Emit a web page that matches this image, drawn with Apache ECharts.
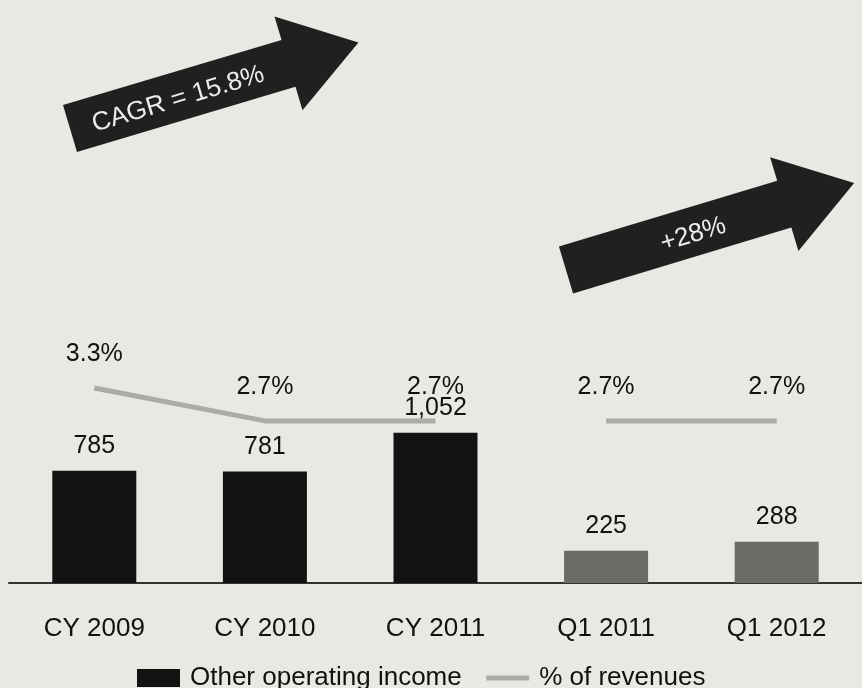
<!DOCTYPE html>
<html>
<head>
<meta charset="utf-8">
<script src="https://cdn.jsdelivr.net/npm/echarts@6/dist/echarts.min.js"></script>
<style>
  html, body { margin: 0; padding: 0; background: #e8e9e2; }
  #chart { width: 862px; height: 688px; }
</style>
</head>
<body>
<div id="chart"></div>
<script>
// Periods shown on the category axis
const categories = ['CY 2009', 'CY 2010', 'CY 2011', 'Q1 2011', 'Q1 2012'];
// Other operating income per period
const otherIncome = [785, 781, 1052, 225, 288];
// Other operating income as % of revenues (annual and quarterly segments)
const shareAnnual = [3.3, 2.7, 2.7, null, null];
const shareQuarterly = [null, null, null, 2.7, 2.7];
// Growth call-outs
const annualGrowthText = 'CAGR = 15.8%';
const quarterlyGrowthText = '+28%';

const FONT = '"Liberation Sans", Arial, sans-serif';
const BAR_DARK = '#121212';
const BAR_GREY = '#6a6a66';
const LINE_GREY = '#abaca8';
const ARROW = '#202020';

const chart = echarts.init(document.getElementById('chart'));

// Block arrow pointing up-right with a label along its shaft
function growthArrow(x, y, deg, text, textPos) {
  const shaftLen = 228, shaftHalf = 24.5, headLen = 73, headHalf = 49;
  return {
    type: 'group',
    x: x, y: y,
    rotation: deg * Math.PI / 180,
    children: [
      {
        type: 'polygon',
        shape: {
          points: [
            [0, -shaftHalf], [shaftLen, -shaftHalf], [shaftLen, -headHalf],
            [shaftLen + headLen, 0],
            [shaftLen, headHalf], [shaftLen, shaftHalf], [0, shaftHalf]
          ]
        },
        style: { fill: ARROW }
      },
      {
        type: 'text',
        x: textPos, y: 3,
        style: {
          text: text,
          fill: '#ececec',
          font: '26px ' + FONT,
          align: 'center',
          verticalAlign: 'middle'
        }
      }
    ]
  };
}

const barLabel = {
  show: true,
  position: 'top',
  distance: 12,
  color: '#111',
  fontSize: 25,
  fontFamily: FONT,
  formatter: p => p.value.toLocaleString('en-US')
};

const lineLabel = {
  show: true,
  position: 'top',
  distance: 21,
  color: '#111',
  fontSize: 25,
  fontFamily: FONT,
  formatter: p => p.value.toFixed(1) + '%'
};

function shareSeries(data) {
  return {
    name: '% of revenues',
    type: 'line',
    yAxisIndex: 1,
    data: data,
    symbol: 'circle',
    symbolSize: 1,
    showSymbol: true,
    lineStyle: { color: LINE_GREY, width: 5 },
    itemStyle: { color: 'rgba(0,0,0,0)' },
    label: lineLabel,
    labelLayout: { hideOverlap: false },
    z: 3
  };
}

chart.setOption({
  backgroundColor: '#e8e9e2',
  animation: false,
  textStyle: { fontFamily: FONT },
  grid: { left: 9, right: -9, top: 83, bottom: 105 },
  legend: {
    left: 132,
    top: 660,
    itemGap: 22,
    itemWidth: 43,
    itemHeight: 18,
    textStyle: { fontSize: 26, color: '#111', fontFamily: FONT, padding: [0, 0, 0, 5] },
    data: [
      { name: 'Other operating income', icon: 'rect', itemStyle: { color: BAR_DARK } },
      { name: '% of revenues', lineStyle: { color: LINE_GREY, width: 5 } }
    ]
  },
  xAxis: {
    type: 'category',
    data: categories,
    axisLine: { lineStyle: { color: '#333', width: 2 } },
    axisTick: { show: false },
    axisLabel: { color: '#111', fontSize: 26, fontFamily: FONT, margin: 33 }
  },
  yAxis: [
    { type: 'value', min: 0, max: 3500, show: false, splitLine: { show: false } },
    { type: 'value', min: -0.25, max: 8.85, show: false, splitLine: { show: false } }
  ],
  series: [
    {
      name: 'Other operating income',
      type: 'bar',
      barWidth: 84,
      data: otherIncome.map((v, i) => ({
        value: v,
        itemStyle: { color: i < 3 ? BAR_DARK : BAR_GREY }
      })),
      itemStyle: { color: BAR_DARK },
      label: barLabel,
      z: 2
    },
    shareSeries(shareAnnual),
    shareSeries(shareQuarterly)
  ],
  graphic: [
    growthArrow(70, 128.5, 16.6, annualGrowthText, 112),
    growthArrow(566, 270, 16.8, quarterlyGrowthText, 132)
  ]
});
</script>
</body>
</html>
